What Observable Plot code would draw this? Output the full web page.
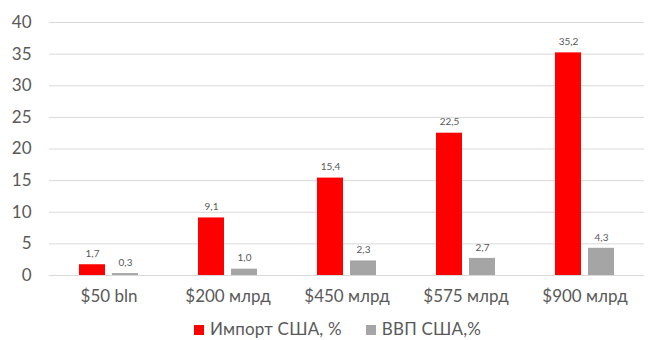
<!DOCTYPE html>
<html><head><meta charset="utf-8">
<script src="https://cdn.jsdelivr.net/npm/d3@7"></script>
<script src="https://cdn.jsdelivr.net/npm/@observablehq/plot@0.6"></script>
<style>
body{margin:0;background:#fff;font-family:Lato,"Open Sans",sans-serif;overflow:hidden}
#chart svg{display:block}
#legend{display:flex;justify-content:center;gap:24px;font-size:17px;line-height:18px;color:#595959;margin-top:8px;margin-left:24px;letter-spacing:0.2px}
#legend span.sw{display:inline-block;width:10px;height:10px;margin-right:6px;vertical-align:middle;position:relative;top:-1px}
</style></head><body>
<div id="chart"></div>
<div id="legend"></div>
<script>
const categories = ["$50 bln", "$200 млрд", "$450 млрд", "$575 млрд", "$900 млрд"];
const seriesNames = ["Импорт США, %", "ВВП США,%"];
const importValues = [1.7, 9.1, 15.4, 22.5, 35.2];
const gdpValues = [0.3, 1.0, 2.3, 2.7, 4.3];
const colors = ["#ff0000", "#a5a5a5"];
const yTicks = [0, 5, 10, 15, 20, 25, 30, 35, 40];

const data = [];
categories.forEach((c, i) => {
  data.push({cat: c, series: seriesNames[0], value: importValues[i]});
  data.push({cat: c, series: seriesNames[1], value: gdpValues[i]});
});
const fmt = v => v.toFixed(1).replace(".", ",");

const chart = Plot.plot({
  width: 651,
  height: 312,
  marginLeft: 48,
  marginRight: 6,
  marginTop: 22,
  marginBottom: 37,
  style: {fontFamily: "Lato, 'Open Sans', sans-serif", color: "#595959"},
  fx: {domain: categories, padding: 0, label: null, axis: null},
  x: {domain: seriesNames, paddingInner: 0.206, paddingOuter: 0.858, axis: null},
  y: {domain: [0, 40], ticks: yTicks, label: null, axis: null},
  color: {domain: seriesNames, range: colors},
  marks: [
    Plot.gridY(yTicks, {stroke: "#d9d9d9", strokeOpacity: 1, strokeWidth: 1, facetAnchor: null}),
    Plot.barY(data, {fx: "cat", x: "series", y: "value", fill: "series"}),
    Plot.text(data, {fx: "cat", x: "series", y: "value", text: d => fmt(d.value), dy: -11, fontSize: 10, fill: "#595959"}),
    Plot.axisY(yTicks, {tickSize: 0, tickPadding: 18, fontSize: 17, fill: "#595959", label: null, facetAnchor: "left"}),
    Plot.axisFx({anchor: "bottom", tickSize: 0, tickPadding: 14, fontSize: 17, fill: "#595959", label: null})
  ]
});
document.getElementById("chart").appendChild(chart);

const lg = document.getElementById("legend");
seriesNames.forEach((n, i) => {
  const d = document.createElement("div");
  d.innerHTML = `<span class="sw" style="background:${colors[i]}"></span>${n}`;
  lg.appendChild(d);
});
</script>
</body></html>
